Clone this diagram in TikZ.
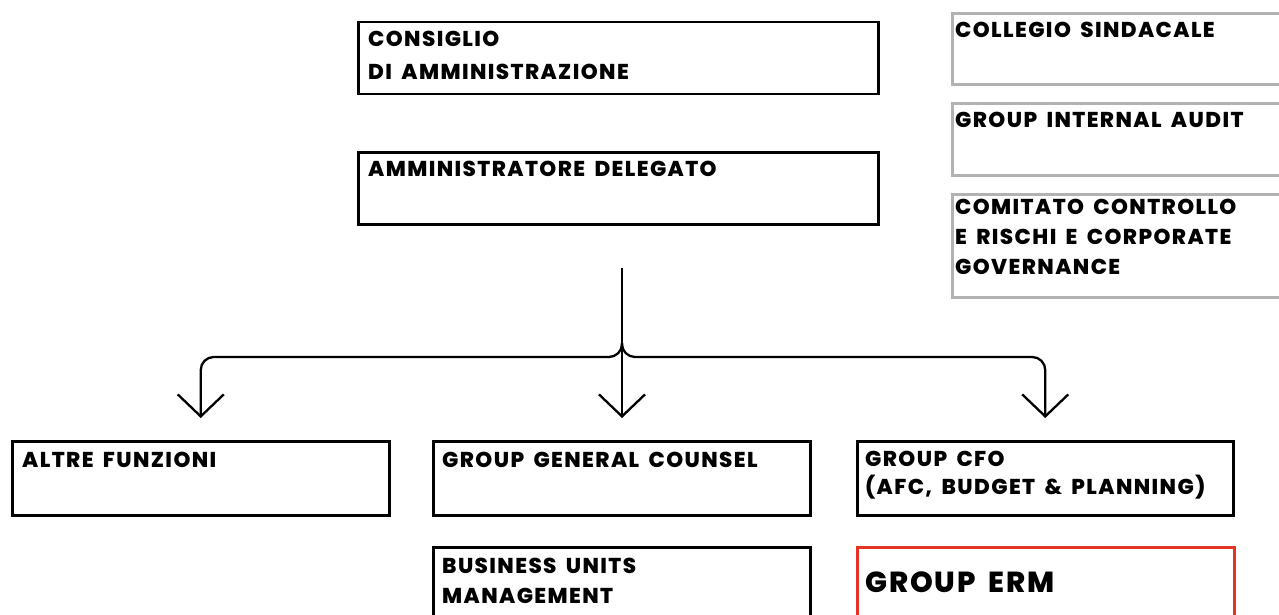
\documentclass[tikz,border=0pt]{standalone}
\usepackage{fontspec}
\newfontfamily\orgfont{Poppins}[BoldFont={Poppins ExtraBold}, LetterSpace=6.5, WordSpace=1.7]
\usetikzlibrary{arrows.meta}
\definecolor{sidegray}{RGB}{178,178,178}
\definecolor{ermred}{RGB}{229,52,36}

\begin{document}
\begin{tikzpicture}[x=1pt, y=-1pt,
    box/.style={draw, line width=2.5pt, inner sep=0pt, anchor=north west},
    side/.style={box, draw=sidegray, line width=3pt},
    riskbox/.style={box, draw=ermred, line width=3pt},
    lbl/.style={anchor=north west, inner sep=0pt, align=left,
        font=\orgfont\bfseries\fontsize{21.5}{30}\selectfont,
        execute at begin node={\rule{0pt}{15pt}}},
    link/.style={line width=2.3pt, -{Straight Barb[length=22pt, width=46pt]}, shorten >=22pt}]
        \useasboundingbox (0,0) rectangle (1279,615);
        % Board and CEO
        \node[box, minimum width=520pt, minimum height=72pt] (cda) at (357,21) {};
        \node[lbl] (cdatext) at ([xshift=11pt, yshift=-10pt]cda.north west) {CONSIGLIO\\[3pt]DI AMMINISTRAZIONE};
        \node[box, minimum width=520pt, minimum height=72pt] (ad) at (357,151) {};
        \node[lbl] (adtext) at ([xshift=11pt, yshift=-10pt]ad.north west) {AMMINISTRATORE DELEGATO};
        % Control bodies (cut at the right edge)
        \node[side, minimum width=360pt, minimum height=71pt] (cs) at (951,12) {};
        \node[lbl] (cstext) at ([xshift=4pt, yshift=-10pt]cs.north west) {COLLEGIO SINDACALE};
        \node[side, minimum width=360pt, minimum height=72pt] (gia) at (951,102) {};
        \node[lbl] (giatext) at ([xshift=4pt, yshift=-10pt]gia.north west) {GROUP INTERNAL AUDIT};
        \node[side, minimum width=360pt, minimum height=103pt] (ccr) at (951,193) {};
        \node[lbl] (ccrtext) at ([xshift=4pt, yshift=-6pt]ccr.north west) {COMITATO CONTROLLO\\E RISCHI E CORPORATE\\GOVERNANCE};
        % Functions
        \node[box, minimum width=377pt, minimum height=74pt] (alt) at (11,440) {};
        \node[lbl] (alttext) at ([xshift=11pt, yshift=-12pt]alt.north west) {ALTRE FUNZIONI};
        \node[box, minimum width=377pt, minimum height=74pt] (ggc) at (432,440) {};
        \node[lbl] (ggctext) at ([xshift=10pt, yshift=-12pt]ggc.north west) {GROUP GENERAL COUNSEL};
        \node[box, minimum width=376pt, minimum height=74pt] (cfo) at (856,440) {};
        \node[lbl] (cfotext) at ([xshift=9pt, yshift=-11pt]cfo.north west) {GROUP CFO\\[-2pt](AFC, BUDGET \& PLANNING)};
        \node[box, minimum width=377pt, minimum height=80pt] (bum) at (432,546) {};
        \node[lbl] (bumtext) at ([xshift=10pt, yshift=-12pt]bum.north west) {BUSINESS UNITS\\MANAGEMENT};
        \node[riskbox, minimum width=377pt, minimum height=80pt] (erm) at (856,546) {};
        \node[lbl, font=\orgfont\bfseries\fontsize{29}{30}\selectfont] (ermtext) at ([xshift=9pt, yshift=-26pt]erm.north west) {GROUP ERM};
        % Connectors
        \coordinate (top) at (622,268);
        \coordinate (hub) at (622,343);
        \draw[link] (top) -- (top |- ggc.north);
        \draw[link, rounded corners=13pt] (hub) -- ++(0,14) -| (alt.north);
        \draw[link, rounded corners=13pt] (hub) -- ++(0,14) -| (cfo.north);
    \end{tikzpicture}
\end{document}
